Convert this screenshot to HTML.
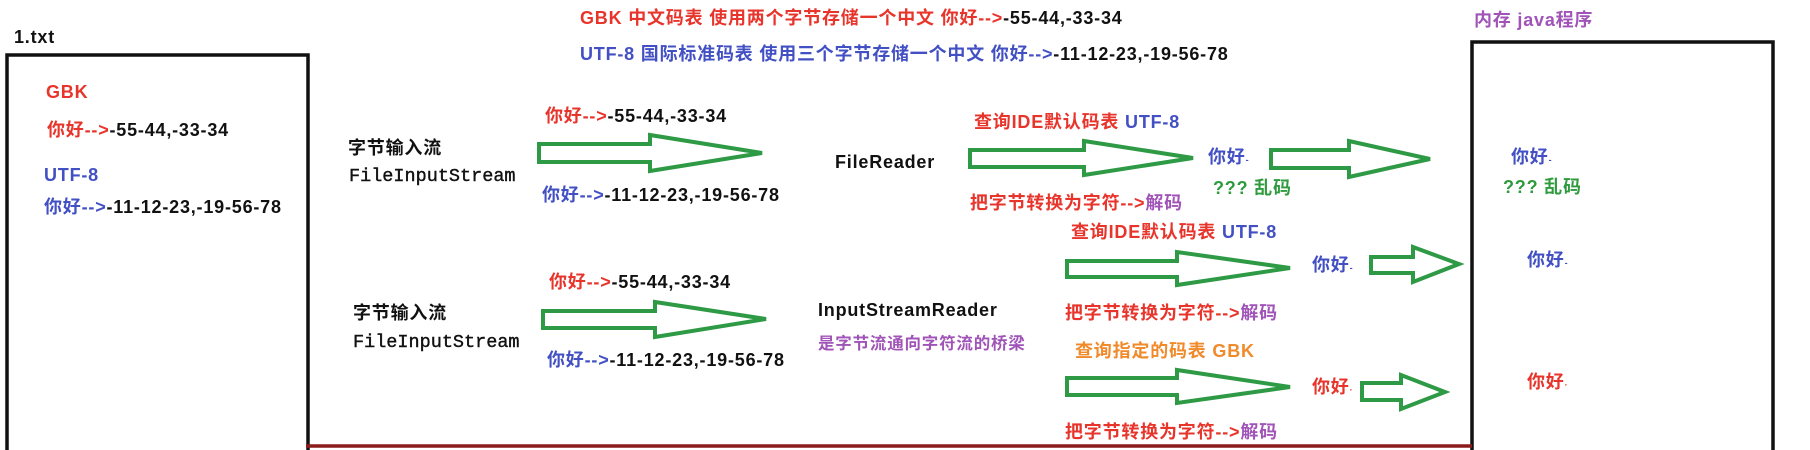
<!DOCTYPE html>
<html><head><meta charset="utf-8"><style>
html,body{margin:0;padding:0;background:#fff;}
body{width:1810px;height:450px;position:relative;overflow:hidden;font-family:"Liberation Sans","Noto Sans CJK SC",sans-serif;font-weight:bold;font-size:18px;letter-spacing:0.8px;}
.t{position:absolute;white-space:nowrap;line-height:20px;}
.r{color:#e8352c}.b{color:#4250c4}.k{color:#111}.g{color:#2f9a3e}.p{color:#a054b8}.o{color:#f08a2a}
.m{font-family:"Liberation Mono",monospace;font-weight:normal;font-size:18.5px;letter-spacing:0;color:#111;-webkit-text-stroke:0.4px #111}
</style></head><body>
<svg width="1810" height="450" style="position:absolute;left:0;top:0">
<g fill="none" stroke="#111" stroke-width="3.5">
<polyline points="7,452 7,55 308,55 308,452"/>
<polyline points="1472,452 1472,42 1773,42 1773,452"/>
</g>
<line x1="306" y1="446" x2="1472" y2="446" stroke="#8b1c1c" stroke-width="3.5"/>
<g fill="#fff" stroke="#2e9a45" stroke-width="4" stroke-linejoin="miter">
<polygon points="539,144 650,144 650,135 762,153 650,171 650,162 539,162"/>
<polygon points="543,311 655,311 655,302 766,319 655,337 655,328 543,328"/>
<polygon points="970,150 1084,150 1084,141 1193,158 1084,175 1084,167 970,167"/>
<polygon points="1271,150 1349,150 1349,141 1430,159 1349,177 1349,168 1271,168"/>
<polygon points="1067,261 1177,261 1177,252 1290,268 1177,285 1177,277 1067,277"/>
<polygon points="1371,257 1413,257 1413,247 1459,264 1413,282 1413,273 1371,273"/>
<polygon points="1067,378 1177,378 1177,370 1290,387 1177,403 1177,395 1067,395"/>
<polygon points="1362,383 1401,383 1401,375 1445,392 1401,409 1401,400 1362,400"/>
</g>
</svg>

<div class="t k" style="left:14px;top:27px">1.txt</div>
<div class="t r" style="left:580px;top:8px">GBK 中文码表 使用两个字节存储一个中文 你好--&gt;<span class="k">-55-44,-33-34</span></div>
<div class="t b" style="left:580px;top:44px">UTF-8 国际标准码表 使用三个字节存储一个中文 你好--&gt;<span class="k">-11-12-23,-19-56-78</span></div>
<div class="t p" style="left:1474px;top:10px">内存 java程序</div>

<div class="t r" style="left:46px;top:82px">GBK</div>
<div class="t r" style="left:47px;top:120px">你好--&gt;<span class="k">-55-44,-33-34</span></div>
<div class="t b" style="left:44px;top:165px">UTF-8</div>
<div class="t b" style="left:44px;top:197px">你好--&gt;<span class="k">-11-12-23,-19-56-78</span></div>

<div class="t k" style="left:348px;top:138px">字节输入流</div>
<div class="t m" style="left:349px;top:167px">FileInputStream</div>
<div class="t r" style="left:545px;top:106px">你好--&gt;<span class="k">-55-44,-33-34</span></div>
<div class="t b" style="left:542px;top:185px">你好--&gt;<span class="k">-11-12-23,-19-56-78</span></div>
<div class="t k" style="left:835px;top:152px">FileReader</div>

<div class="t k" style="left:353px;top:303px">字节输入流</div>
<div class="t m" style="left:353px;top:333px">FileInputStream</div>
<div class="t r" style="left:549px;top:272px">你好--&gt;<span class="k">-55-44,-33-34</span></div>
<div class="t b" style="left:547px;top:350px">你好--&gt;<span class="k">-11-12-23,-19-56-78</span></div>
<div class="t k" style="left:818px;top:300px">InputStreamReader</div>
<div class="t p" style="left:818px;top:334px;font-size:16.5px">是字节流通向字符流的桥梁</div>

<div class="t r" style="left:974px;top:112px">查询IDE默认码表 <span class="b">UTF-8</span></div>
<div class="t b" style="left:1208px;top:147px">你好<span style="font-size:9px">-</span></div>
<div class="t g" style="left:1213px;top:178px">??? 乱码</div>
<div class="t r" style="left:970px;top:193px">把字节转换为字符--&gt;<span class="p">解码</span></div>

<div class="t r" style="left:1071px;top:222px">查询IDE默认码表 <span class="b">UTF-8</span></div>
<div class="t b" style="left:1312px;top:255px">你好<span style="font-size:9px">-</span></div>
<div class="t r" style="left:1065px;top:303px">把字节转换为字符--&gt;<span class="p">解码</span></div>
<div class="t o" style="left:1075px;top:341px">查询指定的码表 GBK</div>
<div class="t r" style="left:1312px;top:377px">你好<span style="font-size:9px">·</span></div>
<div class="t r" style="left:1065px;top:422px">把字节转换为字符--&gt;<span class="p">解码</span></div>

<div class="t b" style="left:1511px;top:147px">你好<span style="font-size:9px">-</span></div>
<div class="t g" style="left:1503px;top:177px">??? 乱码</div>
<div class="t b" style="left:1527px;top:250px">你好<span style="font-size:9px">-</span></div>
<div class="t r" style="left:1527px;top:372px">你好<span style="font-size:9px">·</span></div>
</body></html>
